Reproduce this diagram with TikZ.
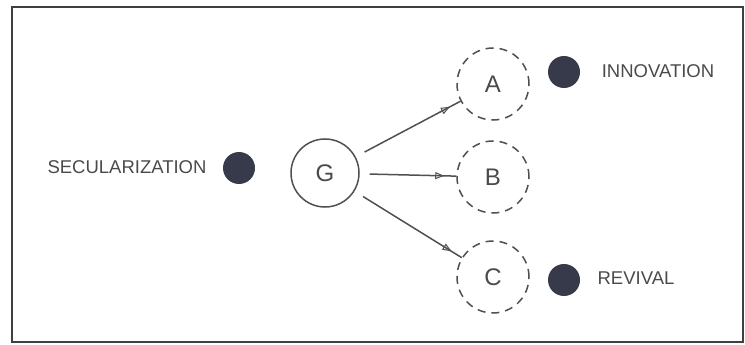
\documentclass[tikz,border=0pt]{standalone}
\usepackage{fontspec}
\setmainfont{Liberation Sans}
\usetikzlibrary{arrows.meta,decorations.markings}
\definecolor{linegray}{HTML}{505050}
\definecolor{textgray}{HTML}{4A4A4A}
\definecolor{framegray}{HTML}{404040}
\definecolor{dotnavy}{HTML}{373A4A}
\tikzset{
  solidcirc/.style={circle,draw=linegray,line width=1.5pt,minimum size=68pt,inner sep=0pt,text=textgray,font=\fontsize{24}{24}\selectfont},
  dashcirc/.style={circle,draw=linegray,line width=1.5pt,dash pattern=on 8pt off 6pt,minimum size=72pt,inner sep=0pt,text=textgray,font=\fontsize{24}{24}\selectfont},
  dotnode/.style={circle,fill=dotnavy,minimum size=32pt,inner sep=0pt},
  labeltext/.style={text=textgray,font=\fontsize{18.5}{18.5}\selectfont,inner sep=0pt},
  link/.style={draw=linegray,line width=1.5pt,shorten <=10pt,
    postaction={decorate,decoration={markings,mark=at position -12pt with {\arrow{Triangle[open,length=9pt,width=7pt,line width=1pt]}}}}}
}
\begin{document}
\begin{tikzpicture}[x=1pt,y=-1pt]
\useasboundingbox (0,0) rectangle (745,345);
\node[draw=framegray,line width=2pt,minimum width=731pt,minimum height=335pt,inner sep=0pt] (frame) at (377.5,174.5) {};
\node[solidcirc] (G) at (325,173) {G};
\node[dashcirc] (A) at (493,84) {A};
\node[dashcirc] (B) at (493,177) {B};
\node[dashcirc] (C) at (493,277) {C};
\node[dotnode] (dsec) at (239,168) {};
\node[dotnode] (dinn) at (564,72) {};
\node[dotnode] (drev) at (564,280) {};
\node[labeltext] (tsec) at (127,167) {SECULARIZATION};
\node[labeltext] (tinn) at (658,71) {INNOVATION};
\node[labeltext] (trev) at (636,278) {REVIVAL};
\draw[link] (G) -- (A);
\draw[link] (G) -- (B);
\draw[link] (G) -- (C);
\end{tikzpicture}
\end{document}
